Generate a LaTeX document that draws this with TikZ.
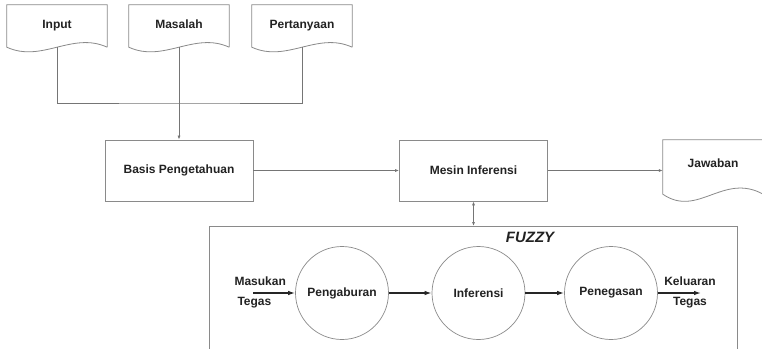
\documentclass[tikz,border=0pt]{standalone}
\usepackage{fontspec}
\setmainfont{Liberation Sans}
\usetikzlibrary{arrows.meta,calc}
\definecolor{edge}{HTML}{8A8A8A}
\definecolor{ink}{HTML}{222222}
\tikzset{
  txt/.style={font=\fontsize{12}{20}\selectfont\bfseries, text=ink},
  docnode/.style={txt, rectangle, draw=none, minimum width=100pt, inner sep=0pt, text height=9pt},
  procbox/.style={txt, rectangle, draw=edge, line width=0.8pt, minimum width=148pt, minimum height=61pt},
  circ/.style={txt, circle, draw=edge, line width=0.7pt, minimum size=93pt, inner sep=0pt},
  outline/.style={draw=edge, line width=0.8pt},
  conn/.style={draw=edge!85!black, line width=0.7pt},
  stip/.style={-{Latex[length=4pt,width=3pt]}},
  fz/.style={draw=black!85, line width=1.3pt, -{Latex[length=7pt,width=4.5pt]}},
}
\begin{document}
\begin{tikzpicture}[x=1pt,y=-1pt]
\clip (0,0) rectangle (762,348);
\fill[white] (0,0) rectangle (762,348);

% documents
\node[docnode, minimum height=42pt, text depth=5pt] (in) at (57,26) {Input};
\node[docnode, minimum height=42pt, text depth=5pt] (ms) at (179,26) {Masalah};
\node[docnode, minimum height=42pt, text depth=5pt] (pt) at (302,26) {Pertanyaan};
\node[docnode, minimum height=54pt, text depth=9pt] (jw) at (713,167) {Jawaban};
\foreach \d in {in,ms,pt}{
  \draw[outline] (\d.south east) -- (\d.north east) -- (\d.north west) -- (\d.south west)
    .. controls ($(\d.south west)+(35,16)$) and ($(\d.south east)+(-35,-16)$) .. (\d.south east);
}
\draw[outline] (jw.south east) -- (jw.north east) -- (jw.north west) -- (jw.south west)
    .. controls ($(jw.south west)+(35,24)$) and ($(jw.south east)+(-40,-22)$) .. (jw.south east);

% process boxes
\node[procbox] (bp) at (179,170.5) {Basis Pengetahuan};
\node[procbox] (mi) at (473.5,170.5) {Mesin Inferensi};

% connectors
\coordinate (bus) at (179,103);
\draw[conn] (in.south) |- (bus) -| (pt.south);
\draw[conn,stip] (ms.south) -- (bp.north);
\draw[conn,stip] (bp.east) -- (mi.west);
\draw[conn,stip] (mi.east) -- (mi.east -| jw.west);

% fuzzy container
\node[draw=edge, line width=0.8pt, rectangle, anchor=north west, minimum width=528pt, minimum height=140pt, inner sep=0pt] (fzb) at (209,226) {};
\node[txt, font=\fontsize{15}{18}\selectfont\bfseries\itshape] (fzl) at (530,237.5) {FUZZY};
\draw[conn,{Latex[length=4pt,width=3pt]}-{Latex[length=4pt,width=3pt]}] (mi.south) -- (mi.south |- fzb.north);

% circles
\node[circ] (pg) at (342,293) {Pengaburan};
\node[circ] (inf) at (478.5,293) {Inferensi};
\node[circ] (pn) at (611,293) {Penegasan};

\node[txt, align=left, anchor=west] (mt) at (231,292) {Masukan\\\hspace*{3pt}Tegas};
\node[txt, align=center] (kt) at (690,292) {Keluaran\\Tegas};
\coordinate (min) at (253,293);
\coordinate (kout) at (701,293);
\draw[fz] (min) -- (pg.west);
\draw[fz] (pg.east) -- (inf.west);
\draw[fz] (inf.east) -- (pn.west);
\draw[fz] (pn.east) -- (kout);
\end{tikzpicture}
\end{document}
